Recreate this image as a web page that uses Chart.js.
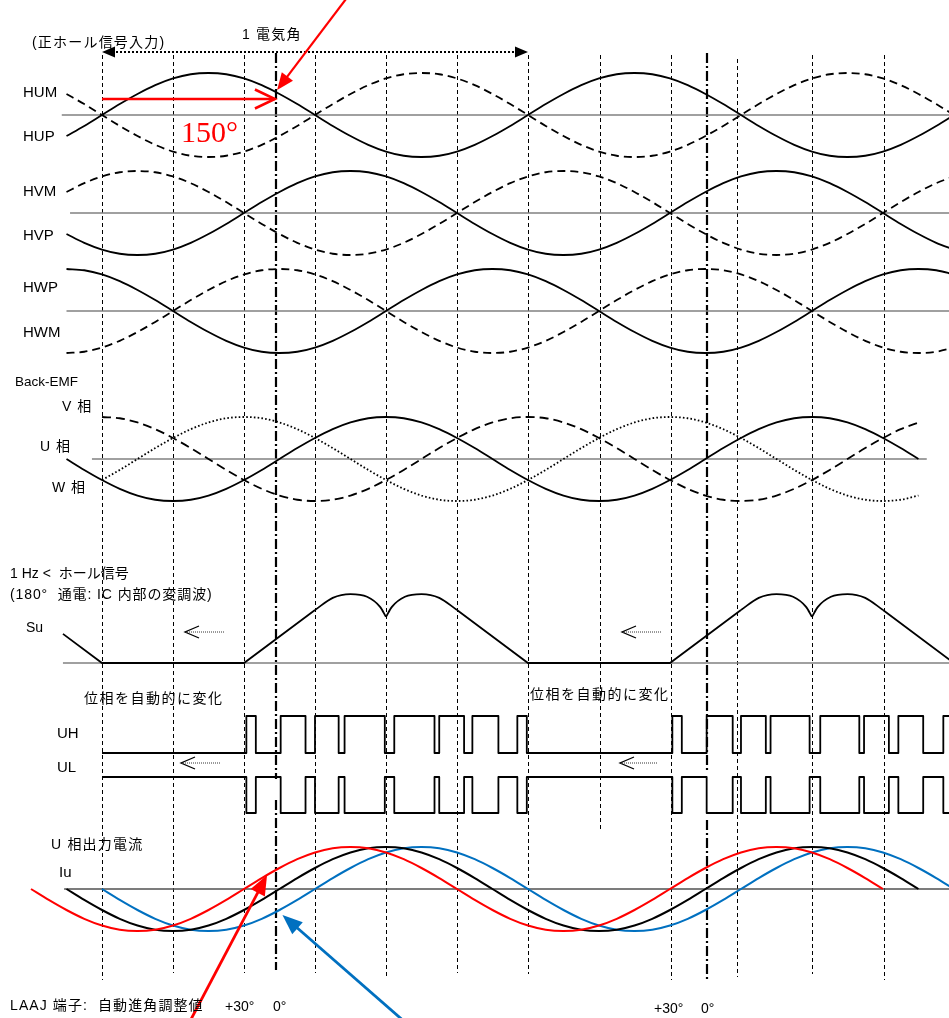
<!DOCTYPE html>
<html>
<head>
<meta charset="utf-8">
<script src="https://cdn.jsdelivr.net/npm/chart.js@4.4.1/dist/chart.umd.min.js"></script>
<style>
  html, body { margin: 0; padding: 0; background: #fff; }
</style>
</head>
<body>
<canvas id="timing" width="949" height="1018"></canvas>
<script>
// x = electrical angle in degrees (0 = HUP rising zero crossing)
// normalized sine every 15 deg
const sineShape = [0, 0.26, 0.5, 0.71, 0.87, 0.97, 1, 0.97, 0.87, 0.71, 0.5, 0.26,
                   0, -0.26, -0.5, -0.71, -0.87, -0.97, -1, -0.97, -0.87, -0.71, -0.5, -0.26];

// hall inputs
const hallNames = ['HUM', 'HUP', 'HVM', 'HVP', 'HWP', 'HWM'];
const hallPhase = [180, 0, 300, 120, 240, 60];
const hallRange = [-30, 720];

// back-EMF
const emfNames = ['U 相', 'V 相', 'W 相'];
const emfPhase = [150, 270, 30];
const emfRange = [[-30, 690], [0, 690], [0, 690]];

// Su modulation wave (1 = ramp top)
const suRamps = [[-33, 0.55], [0, 0], [120, 0], [180, 1], [240, null], [300, 1], [360, 0],
                 [480, 0], [540, 1], [600, null], [660, 1], [720, 0]];
const suLobe = [[0, 1], [15, 1.23], [30, 1.3], [44, 1.25], [55, 1.06], [60, 0.87]];
const suLobeStarts = [180, 540];

// UH pwm edges (UL is the complement)
const uhRise = [122, 151, 180, 205, 247, 285, 313, 351, 482, 511, 540, 565, 607, 644, 673, 711];
const uhFall = [130, 172, 200, 239, 281, 306, 335, 359, 490, 533, 561, 598, 640, 665, 694];

// U phase output current: +30 deg advance, 0 deg, lag
const iuPhase = [120, 150, 180];
const iuRange = [[-60, 660], [-30, 690], [0, 720]];
const iuColors = ['#ff0000', '#000000', '#0070c0'];

// grid
const gridAngles = [0, 60, 120, 180, 240, 300, 360, 421, 481, 537, 600, 661];
const advanceAngles = [147, 511];

// layout (y in pixels, y axis runs 0..1018 top-down)
const layout = {
  hallBase: [115, 115, 213, 213, 311, 311],
  hallSpans: [[-34, 716, 115], [-27, 716, 213], [-30, 716, 311]],
  amp: 42,
  emfBase: 459, emfSpan: [-8.5, 697],
  suBase: 663, suUnit: 53, suSpan: [-33, 716],
  uhLow: 753, uhHigh: 716, ulHigh: 777, ulLow: 813,
  iuBase: 889, iuSpan: [-32, 716],
  gridTop: [55, 55, 55, 55, 55, 55, 55, 55, 55, 59, 55, 55],
  gridBottom: [980, 973, 973, 973, 977, 973, 974, 829, 980, 977, 974, 980],
  advanceSegs: [[[53, 779], [800, 970]], [[53, 773], [820, 980]]]
};

function wavePoints(phase, from, to, base, amp) {
  const pts = [];
  for (let a = from; a <= to; a += 15) {
    const idx = ((((a - phase) % 360) + 360) % 360) / 15;
    pts.push({ x: a, y: base - amp * sineShape[idx] });
  }
  return pts;
}

function stepPoints(lowY, highY) {
  const edges = uhRise.map(a => ({ a: a, up: true })).concat(uhFall.map(a => ({ a: a, up: false })));
  edges.sort((p, q) => p.a - q.a);
  const pts = [{ x: 0, y: lowY }];
  let last = lowY;
  edges.forEach(e => { last = e.up ? highY : lowY; pts.push({ x: e.a, y: last }); });
  pts.push({ x: 720, y: last });
  return pts;
}

const datasets = [];
const wave = (data, extra) => Object.assign({
  data: data, borderColor: '#000', borderWidth: 1.8, pointRadius: 0,
  cubicInterpolationMode: 'monotone', fill: false
}, extra);

hallNames.forEach((n, i) => {
  const dashed = n.endsWith('M');
  datasets.push(wave(wavePoints(hallPhase[i], hallRange[0], hallRange[1], layout.hallBase[i], layout.amp),
    { label: n, borderDash: dashed ? [8, 5] : [] }));
});

emfNames.forEach((n, i) => {
  const dash = [[], [9, 5], [1.6, 2.2]][i];
  datasets.push(wave(wavePoints(emfPhase[i], emfRange[i][0], emfRange[i][1], layout.emfBase, layout.amp),
    { label: n, borderDash: dash }));
});

// Su
datasets.push(wave(suRamps.map(p => ({ x: p[0], y: p[1] === null ? null : layout.suBase - p[1] * layout.suUnit })),
  { label: 'Su', cubicInterpolationMode: 'default', tension: 0, spanGaps: false }));
suLobeStarts.forEach(s => {
  const up = suLobe.map(p => ({ x: s + p[0], y: layout.suBase - p[1] * layout.suUnit }));
  const down = suLobe.map(p => ({ x: s + 120 - p[0], y: layout.suBase - p[1] * layout.suUnit })).reverse();
  datasets.push(wave(up, { label: 'Su lobe' }));
  datasets.push(wave(down, { label: 'Su lobe' }));
});

// UH / UL
datasets.push(wave(stepPoints(layout.uhLow, layout.uhHigh), { label: 'UH', stepped: true, borderJoinStyle: 'round' }));
datasets.push(wave(stepPoints(layout.ulHigh, layout.ulLow), { label: 'UL', stepped: true, borderJoinStyle: 'round' }));

// Iu
iuPhase.forEach((ph, i) => {
  datasets.push(wave(wavePoints(ph, iuRange[i][0], iuRange[i][1], layout.iuBase, layout.amp),
    { label: 'Iu' + i, borderColor: iuColors[i], borderWidth: 2 }));
});

// baselines (drawn underneath)
const baseLine = (x0, x1, y, color, w) => ({
  data: [{ x: x0, y: y }, { x: x1, y: y }], borderColor: color, borderWidth: w,
  pointRadius: 0, order: 5, fill: false
});
layout.hallSpans.forEach(s => datasets.push(baseLine(s[0], s[1], s[2], '#808080', 1.5)));
datasets.push(baseLine(layout.emfSpan[0], layout.emfSpan[1], layout.emfBase, '#808080', 1.5));
datasets.push(baseLine(layout.suSpan[0], layout.suSpan[1], layout.suBase, '#808080', 1.5));
datasets.push(baseLine(layout.iuSpan[0], layout.iuSpan[1], layout.iuBase, '#505050', 1.3));

const FONT = '"Liberation Sans", "Noto Sans CJK JP", sans-serif';
const texts = [
  ['(正ホール信号入力)', 32, 43, 14, 1.2],
  ['1 電気角', 242, 35, 14, 1.2],
  ['HUM', 23, 93, 15, 0], ['HUP', 23, 137, 15, 0], ['HVM', 23, 192, 15, 0],
  ['HVP', 23, 236, 15, 0], ['HWP', 23, 288, 15, 0], ['HWM', 23, 333, 15, 0],
  ['Back-EMF', 15, 382, 13.5, 0],
  ['V 相', 62, 407, 14, 1], ['U 相', 40, 447, 14, 1], ['W 相', 52, 488, 14, 1],
  ['1 Hz <  ホール信号', 10, 574, 14, 0], ['(180°  通電: IC 内部の変調波)', 10, 595, 14, 0.9],
  ['Su', 26, 628, 14, 0],
  ['位相を自動的に変化', 84, 699, 14, 1.5], ['位相を自動的に変化', 530, 695, 14, 1.5],
  ['UH', 57, 734, 15, 0], ['UL', 57, 768, 15, 0],
  ['U 相出力電流', 51, 845, 14, 1.2], ['Iu', 59, 873, 15, 0],
  ['LAAJ 端子:  自動進角調整値', 10, 1006, 14, 1.1], ['+30°', 225, 1007, 14, 0], ['0°', 273, 1007, 14, 0],
  ['+30°', 654, 1009, 14, 0], ['0°', 701, 1009, 14, 0]
];

function head(ctx, x1, y1, x2, y2, len, half, filled) {
  const ang = Math.atan2(y2 - y1, x2 - x1);
  const bx = x2 - len * Math.cos(ang), by = y2 - len * Math.sin(ang);
  const px = -Math.sin(ang) * half, py = Math.cos(ang) * half;
  ctx.beginPath();
  ctx.moveTo(bx + px, by + py);
  ctx.lineTo(x2, y2);
  ctx.lineTo(bx - px, by - py);
  if (filled) { ctx.closePath(); ctx.fill(); } else { ctx.stroke(); }
}

function arrow(ctx, x1, y1, x2, y2, color, width, len, half, filled) {
  ctx.save();
  ctx.strokeStyle = color; ctx.fillStyle = color; ctx.lineWidth = width;
  ctx.setLineDash([]);
  ctx.beginPath();
  const ang = Math.atan2(y2 - y1, x2 - x1);
  const endX = filled ? x2 - len * 0.8 * Math.cos(ang) : x2;
  const endY = filled ? y2 - len * 0.8 * Math.sin(ang) : y2;
  ctx.moveTo(x1, y1); ctx.lineTo(endX, endY); ctx.stroke();
  head(ctx, x1, y1, x2, y2, len, half, filled);
  ctx.restore();
}

function smallLeftArrow(ctx, x1, x2, y) {
  ctx.save();
  ctx.strokeStyle = '#333'; ctx.lineWidth = 1;
  ctx.setLineDash([1, 1]);
  ctx.beginPath(); ctx.moveTo(x1 + 2, y); ctx.lineTo(x2, y); ctx.stroke();
  ctx.setLineDash([]);
  ctx.lineWidth = 1.3; ctx.strokeStyle = '#000';
  ctx.beginPath(); ctx.moveTo(x1 + 14, y - 6); ctx.lineTo(x1, y); ctx.lineTo(x1 + 14, y + 6); ctx.stroke();
  ctx.restore();
}

const decorations = {
  id: 'decorations',
  beforeDatasetsDraw(chart) {
    const ctx = chart.ctx, xs = chart.scales.x, ys = chart.scales.y;
    ctx.save();
    ctx.strokeStyle = '#000'; ctx.lineWidth = 1; ctx.setLineDash([4, 3]);
    gridAngles.forEach((a, i) => {
      const x = Math.round(xs.getPixelForValue(a)) + 0.5;
      ctx.beginPath();
      ctx.moveTo(x, ys.getPixelForValue(layout.gridTop[i]));
      ctx.lineTo(x, ys.getPixelForValue(layout.gridBottom[i]));
      ctx.stroke();
    });
    ctx.lineWidth = 2.2; ctx.setLineDash([10, 3, 2, 3]);
    advanceAngles.forEach((a, i) => {
      const x = Math.round(xs.getPixelForValue(a));
      layout.advanceSegs[i].forEach(seg => {
        ctx.beginPath();
        ctx.moveTo(x, ys.getPixelForValue(seg[0]));
        ctx.lineTo(x, ys.getPixelForValue(seg[1]));
        ctx.stroke();
      });
    });
    ctx.restore();
  },
  afterDatasetsDraw(chart) {
    const ctx = chart.ctx, xs = chart.scales.x, ys = chart.scales.y;
    const px = a => xs.getPixelForValue(a), py = v => ys.getPixelForValue(v);
    ctx.save();
    // one electrical angle
    ctx.strokeStyle = '#000'; ctx.fillStyle = '#000'; ctx.lineWidth = 2; ctx.setLineDash([2, 2]);
    ctx.beginPath(); ctx.moveTo(px(0) + 10, py(52)); ctx.lineTo(px(360) - 10, py(52)); ctx.stroke();
    ctx.setLineDash([]);
    head(ctx, px(360), py(52), px(0), py(52), 13, 5.5, true);
    head(ctx, px(0), py(52), px(360), py(52), 13, 5.5, true);

    // 150 deg markers
    arrow(ctx, px(0), py(99), px(147) - 1, py(99), '#ff0000', 2.5, 20, 9.5, false);
    arrow(ctx, px(207.5), py(-3), px(148), py(90), '#ff0000', 2.2, 17, 7, true);
    arrow(ctx, px(74), py(1022), px(139.5), py(875), '#ff0000', 2.8, 20, 8, true);
    arrow(ctx, px(255), py(1021), px(152.5), py(915), '#0070c0', 2.8, 20, 8, true);

    smallLeftArrow(ctx, 185, 224, 632);
    smallLeftArrow(ctx, 622, 662, 632);
    smallLeftArrow(ctx, 181, 221, 763);
    smallLeftArrow(ctx, 620, 658, 763);

    ctx.textBaseline = 'middle'; ctx.textAlign = 'left';
    texts.forEach(t => {
      ctx.font = t[3] + 'px ' + FONT;
      ctx.letterSpacing = t[4] + 'px';
      ctx.fillStyle = '#000';
      ctx.fillText(t[0], t[1], t[2]);
    });
    ctx.letterSpacing = '0px';
    ctx.font = '30px "Liberation Serif", serif';
    ctx.fillStyle = '#ff0000';
    ctx.fillText('150°', 181, 134);
    ctx.restore();
  }
};

new Chart(document.getElementById('timing').getContext('2d'), {
  type: 'line',
  data: { datasets: datasets },
  options: {
    responsive: false,
    animation: false,
    events: [],
    layout: { padding: 0 },
    plugins: { legend: { display: false }, tooltip: { enabled: false } },
    scales: {
      x: { type: 'linear', min: -86.2, max: 715.8, display: false },
      y: { type: 'linear', min: 0, max: 1018, reverse: true, display: false }
    }
  },
  plugins: [decorations]
});
</script>
</body>
</html>
